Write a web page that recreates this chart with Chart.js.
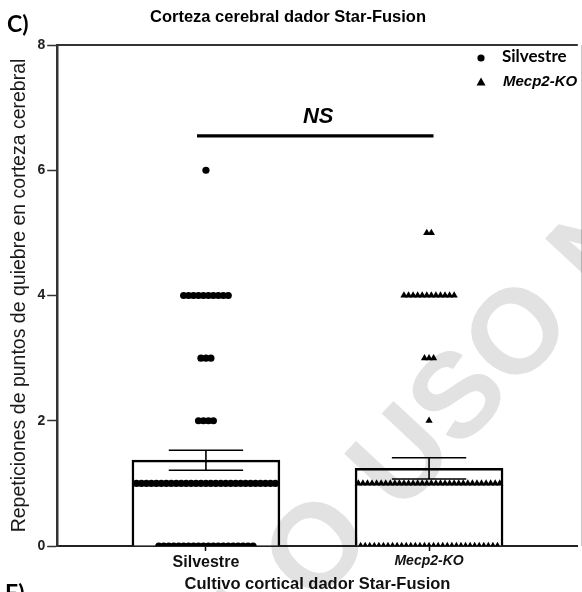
<!DOCTYPE html>
<html>
<head>
<meta charset="utf-8">
<script src="https://cdn.jsdelivr.net/npm/chart.js@4/dist/chart.umd.min.js"></script>
<style>
  html, body { margin: 0; padding: 0; background: #fff; }
  #wrap { width: 582px; height: 592px; position: relative; }
</style>
</head>
<body>
<div id="wrap"><canvas id="c"></canvas></div>
<script>
// --- datos ---
const groupLabels = ['Silvestre', 'Mecp2-KO'];
const groupCenters = [1, 2.5];
const barMeans = [1.37, 1.24];
const barSem = [0.16, 0.17];

// valores de repeticiones y cuantas veces aparece cada uno
const silvestreLevels = [0, 1, 2, 3, 4, 6];
const silvestreCounts = [20, 29, 4, 3, 10, 1];
const mecpLevels = [0, 1, 2, 3, 4, 5];
const mecpCounts = [31, 32, 1, 3, 12, 2];

const yTicks = [0, 2, 4, 6, 8];
const nsLevel = 6.55;

const SANS = "'Liberation Sans', Arial, sans-serif";
const CAL = "Lato, 'Liberation Sans', sans-serif";

// reparte los puntos repetidos en horizontal (como GraphPad)
function spread(levels, counts, center, step) {
    const pts = [];
    levels.forEach((lv, i) => {
        const n = counts[i];
        for (let j = 0; j < n; j++) {
            pts.push({ x: center + (j - (n - 1) / 2) * step, y: lv });
        }
    });
    return pts;
}

const silvestrePts = spread(silvestreLevels, silvestreCounts, groupCenters[0], 5 / 150);
const mecpPts = spread(mecpLevels, mecpCounts, groupCenters[1], 4.6 / 150);

// barras de error + NS + marco
const extrasPlugin = {
    id: 'extras',
    afterDatasetsDraw(chart) {
        const { ctx, scales: { x, y }, chartArea } = chart;
        ctx.save();
        ctx.strokeStyle = '#000';
        ctx.lineWidth = 1.6;
        groupCenters.forEach((c, i) => {
            const px = x.getPixelForValue(c);
            const hi = y.getPixelForValue(barMeans[i] + barSem[i]);
            const lo = y.getPixelForValue(barMeans[i] - barSem[i]);
            const half = x.getPixelForValue(c + 0.25) - px;
            ctx.beginPath();
            ctx.moveTo(px, hi); ctx.lineTo(px, lo);
            ctx.moveTo(px - half, hi); ctx.lineTo(px + half, hi);
            ctx.moveTo(px - half, lo); ctx.lineTo(px + half, lo);
            ctx.stroke();
        });

        // linea de significancia
        const ny = y.getPixelForValue(nsLevel);
        const x1 = x.getPixelForValue(groupCenters[0] - 0.06);
        const x2 = x.getPixelForValue(groupCenters[1] + 0.03);
        ctx.lineWidth = 3.2;
        ctx.beginPath();
        ctx.moveTo(x1, ny); ctx.lineTo(x2, ny);
        ctx.stroke();
        ctx.fillStyle = '#000';
        ctx.font = `italic bold 22px ${SANS}`;
        ctx.textAlign = 'center';
        ctx.textBaseline = 'alphabetic';
        ctx.fillText('NS', (x1 + x2) / 2 + 3, ny - 13);

        // marco superior y derecho
        ctx.strokeStyle = '#333';
        ctx.lineWidth = 2;
        ctx.beginPath();
        ctx.moveTo(chartArea.left, chartArea.top);
        ctx.lineTo(chartArea.right, chartArea.top);
        ctx.stroke();
        ctx.strokeStyle = '#c8c8c8';
        ctx.lineWidth = 1;
        ctx.beginPath();
        ctx.moveTo(581.5, chartArea.top);
        ctx.lineTo(581.5, chartArea.bottom);
        ctx.stroke();
        ctx.restore();
    },
    afterDraw(chart) {
        const { ctx } = chart;
        ctx.save();
        ctx.fillStyle = '#000';
        ctx.textBaseline = 'middle';

        // titulo y etiquetas de panel
        ctx.textAlign = 'center';
        ctx.font = `bold 16.5px ${SANS}`;
        ctx.fillText('Corteza cerebral dador Star-Fusion', 288, 17);
        ctx.textAlign = 'left';
        ctx.font = `bold 23px ${CAL}`;
        ctx.fillText('C)', 7, 25);
        ctx.fillText('E)', 5, 594);

        // leyenda
        ctx.beginPath();
        ctx.arc(481, 58, 3.6, 0, Math.PI * 2);
        ctx.fill();
        ctx.beginPath();
        ctx.moveTo(481, 77.5); ctx.lineTo(485.5, 85.5); ctx.lineTo(476.5, 85.5);
        ctx.closePath();
        ctx.fill();
        ctx.font = `bold 17px ${CAL}`;
        ctx.fillText('Silvestre', 502, 57);
        ctx.font = `italic bold 15px ${SANS}`;
        ctx.fillText('Mecp2-KO', 503, 82);

        // marca de agua
        ctx.globalCompositeOperation = 'multiply';
        ctx.fillStyle = 'rgb(226,226,226)';
        ctx.font = `bold 120px ${SANS}`;
        ctx.translate(462, 400);
        ctx.rotate(-47 * Math.PI / 180);
        const txt = 'SOLO USO NO COMERCIAL';
        const pre = ctx.measureText('SOLO U').width + ctx.measureText('S').width / 2;
        ctx.textAlign = 'left';
        ctx.fillText(txt, -pre, 0);
        ctx.restore();
    }
};

new Chart(document.getElementById('c'), {
    type: 'bar',
    data: {
        datasets: [
            {
                type: 'bar',
                data: groupCenters.map((c, i) => ({ x: c, y: barMeans[i] })),
                backgroundColor: '#fff',
                borderColor: '#000',
                borderWidth: 2.5,
                barThickness: 148,
                order: 2
            },
            {
                type: 'scatter',
                label: 'Silvestre',
                data: silvestrePts,
                pointStyle: 'circle',
                pointRadius: 3.6,
                backgroundColor: '#000',
                borderWidth: 0,
                order: 1
            },
            {
                type: 'scatter',
                label: 'Mecp2-KO',
                data: mecpPts,
                pointStyle: 'triangle',
                pointRadius: 4.2,
                backgroundColor: '#000',
                borderWidth: 0,
                order: 1
            }
        ]
    },
    options: {
        responsive: true,
        maintainAspectRatio: false,
        animation: false,
        layout: { padding: { top: 45, left: 4, right: 0, bottom: -2 } },
        plugins: { legend: { display: false }, tooltip: { enabled: false }, title: { display: false } },
        scales: {
            x: {
                type: 'linear',
                min: 0, max: 3.5,
                offset: false,
                afterBuildTicks: (scale) => { scale.ticks = groupCenters.map(v => ({ value: v })); },
                ticks: {
                    color: '#111',
                    padding: 2,
                    maxRotation: 0,
                    callback: (v) => groupLabels[groupCenters.indexOf(v)],
                    font: (ctx) => ctx.index === 1
                        ? { family: SANS, size: 14, weight: 'bold', style: 'italic' }
                        : { family: SANS, size: 16, weight: 'bold' }
                },
                grid: { display: true, offset: false, drawOnChartArea: false, drawTicks: true, tickLength: 5, tickColor: '#000', tickWidth: 1.5 },
                border: { color: '#222', width: 2 },
                title: {
                    display: true,
                    text: 'Cultivo cortical dador Star-Fusion',
                    color: '#111',
                    font: { family: SANS, size: 16.5, weight: 'bold' },
                    padding: { top: 0, bottom: 0 }
                }
            },
            y: {
                min: 0, max: 8,
                afterBuildTicks: (scale) => { scale.ticks = yTicks.map(v => ({ value: v })); },
                ticks: { color: '#222', padding: 2, font: { family: SANS, size: 14, weight: 'bold' } },
                grid: { display: true, offset: false, drawOnChartArea: false, drawTicks: true, tickLength: 10, tickColor: '#333', tickWidth: 1.5 },
                border: { color: '#333', width: 2.5 },
                title: {
                    display: true,
                    text: 'Repeticiones de puntos de quiebre en corteza cerebral',
                    color: '#1a1a1a',
                    font: { family: SANS, size: 19.5, weight: 'normal' },
                    padding: { top: 4, bottom: 4 }
                }
            }
        }
    },
    plugins: [extrasPlugin]
});
</script>
</body>
</html>
